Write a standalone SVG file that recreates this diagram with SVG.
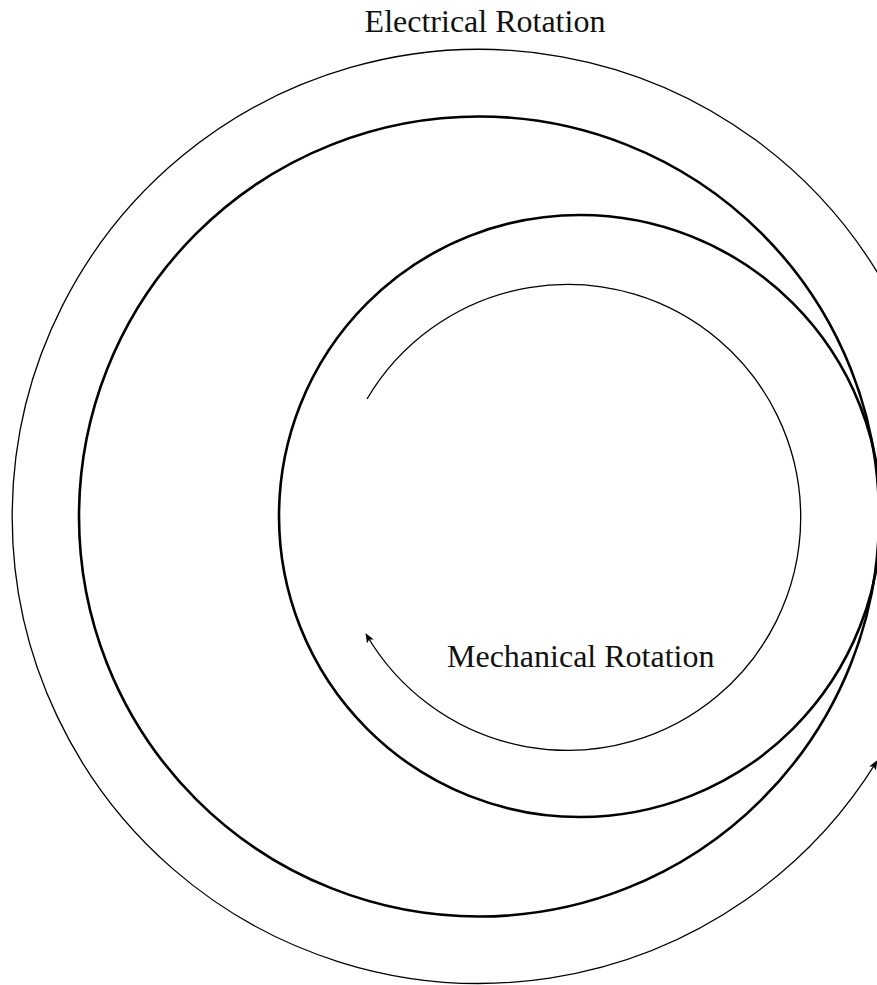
<svg xmlns="http://www.w3.org/2000/svg" width="877" height="985" viewBox="0 0 877 985">
<style>
.thin{fill:none;stroke:#000;stroke-width:1.3}
.thick{fill:none;stroke:#000;stroke-width:2.6}
.lbl{font-family:"Liberation Serif","Times New Roman",serif;font-size:32px;fill:#111}
</style>
<defs>
<marker id="ah" viewBox="0 0 12 10" refX="11" refY="5" markerWidth="10" markerHeight="8" markerUnits="userSpaceOnUse" orient="auto">
<path d="M0,0 L12,5 L0,10 L3,5 Z" fill="#000"/>
</marker>
</defs>
<rect width="877" height="985" fill="#fff"/>
<g id="stator-field">
<circle class="thick" cx="479" cy="516.5" r="400"/>
</g>
<g id="rotor">
<circle class="thick" cx="580" cy="516" r="301"/>
</g>
<g id="connectors">
<path id="electrical-arc" class="thin" d="M 883.4 282.5 A 467 467 0 1 0 877 761" marker-end="url(#ah)"/>
<path id="mechanical-arc" class="thin" d="M 367 399 A 233 233 0 1 1 366 634" marker-end="url(#ah)"/>
</g>
<g id="labels">
<text class="lbl" x="485" y="32" text-anchor="middle">Electrical Rotation</text>
<text class="lbl" x="447" y="667">Mechanical Rotation</text>
</g>
</svg>
